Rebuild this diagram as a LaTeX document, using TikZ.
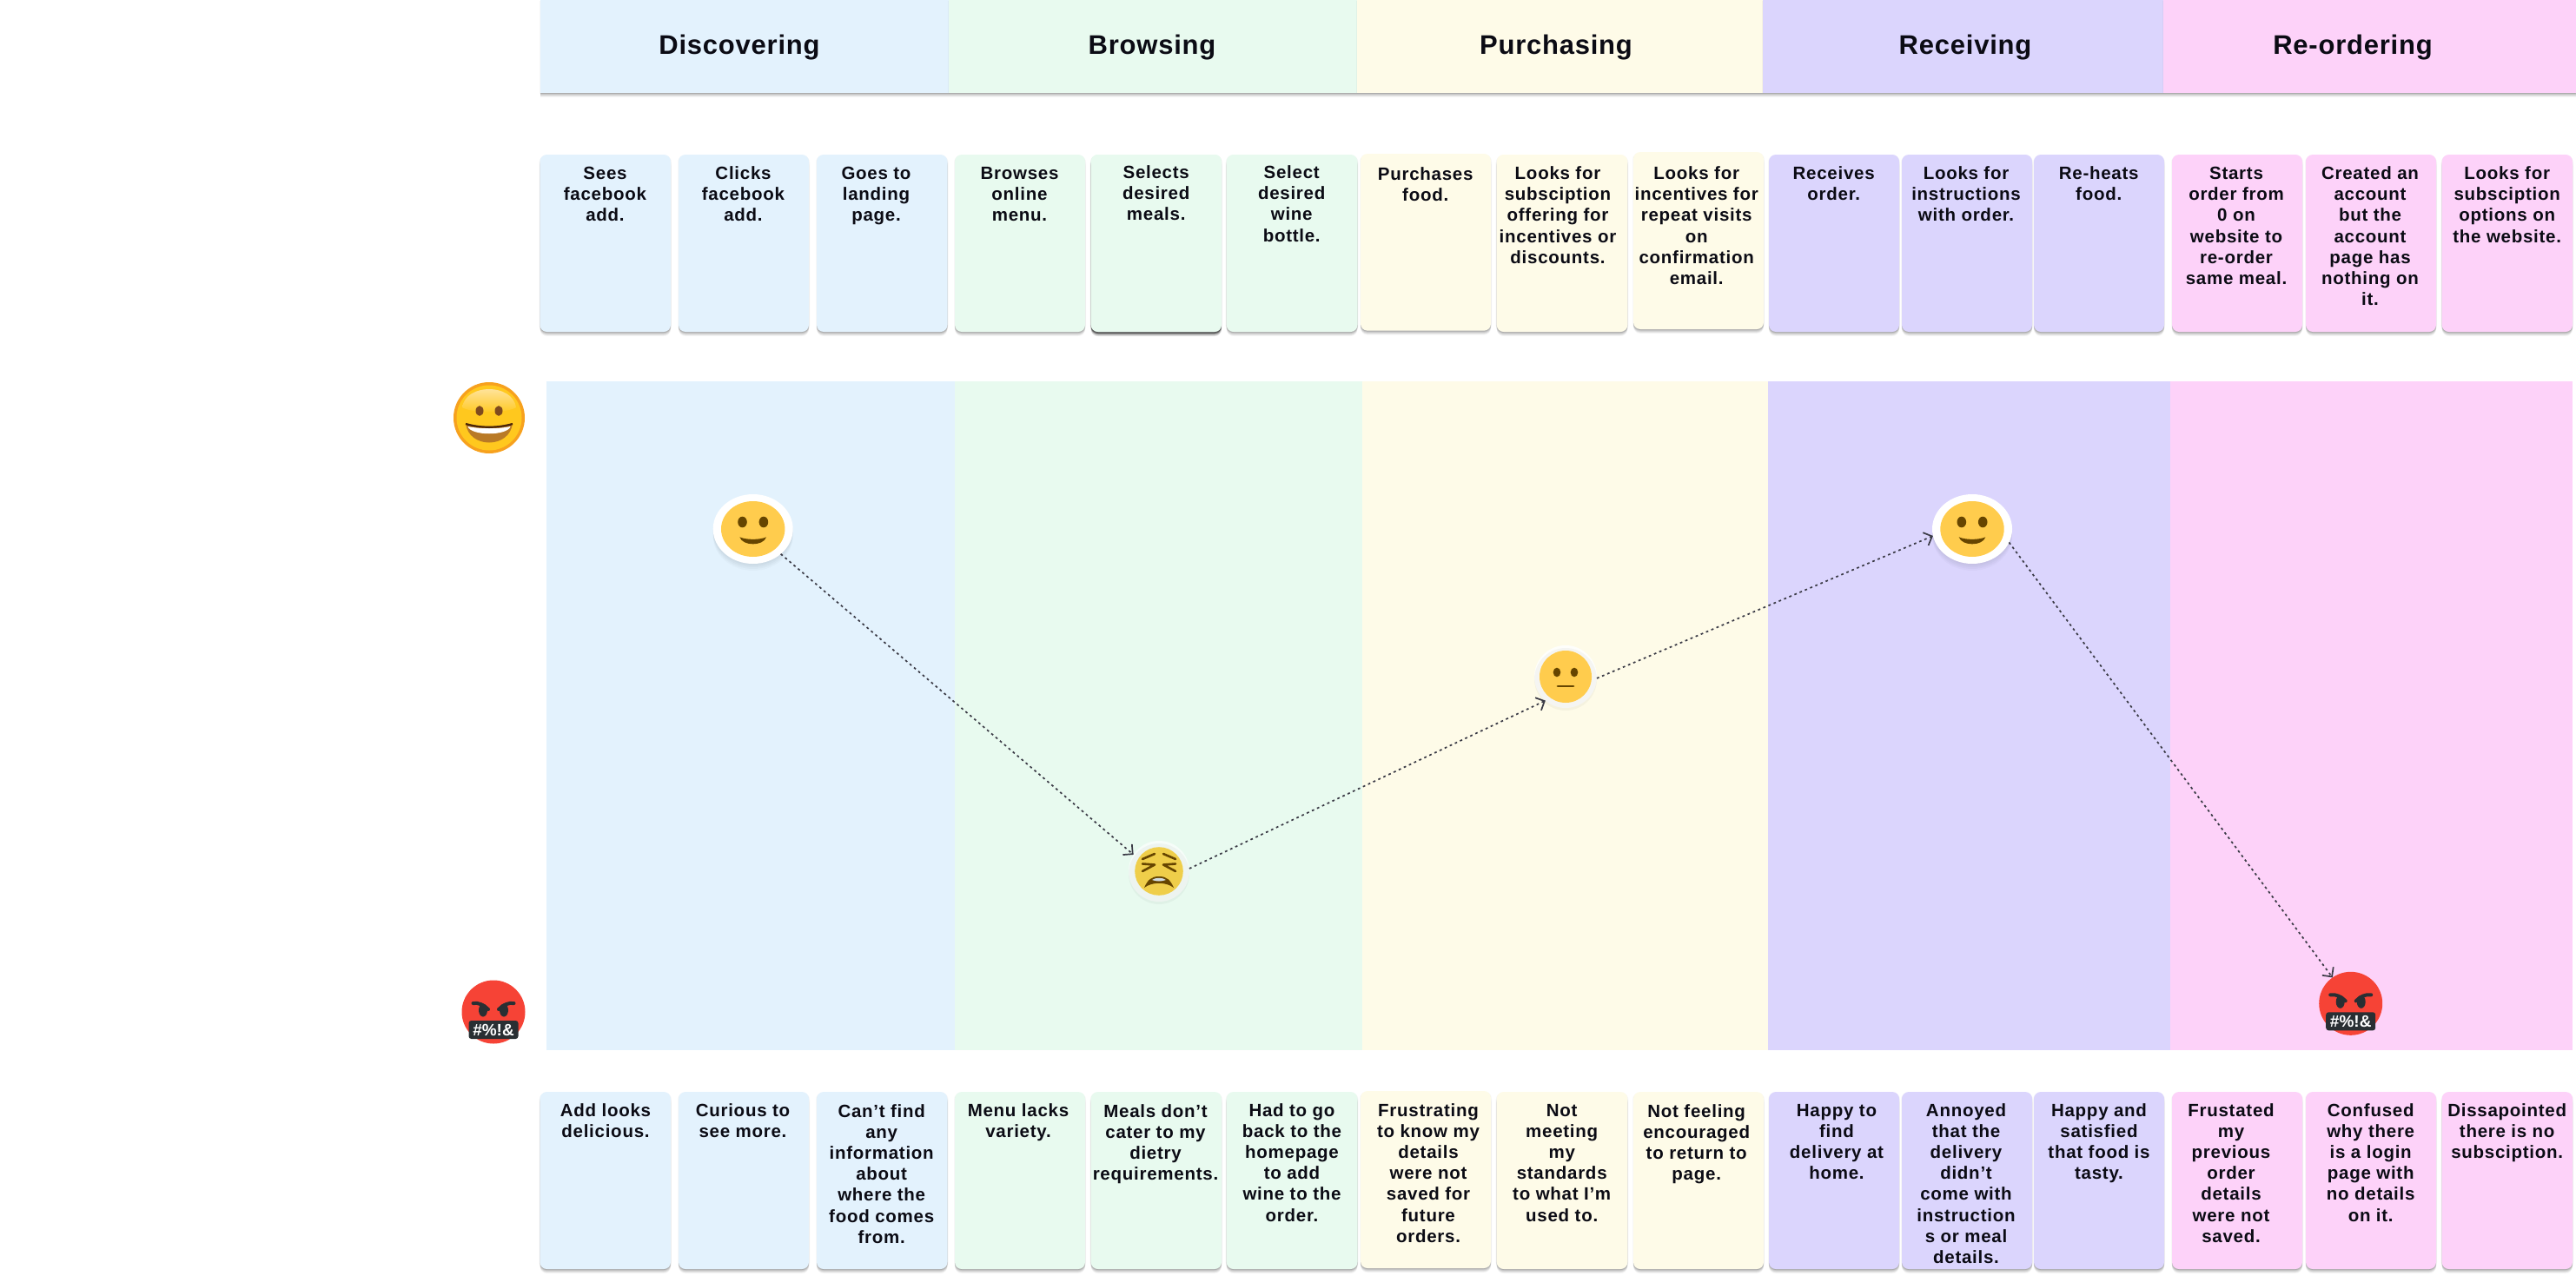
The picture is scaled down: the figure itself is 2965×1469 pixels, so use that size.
\documentclass[tikz,border=0pt]{standalone}
\usepackage{fontspec}
\setmainfont{Liberation Sans}
\newfontfamily\cardface[LetterSpace=3.6]{Liberation Sans Bold}
\newfontfamily\headface[LetterSpace=2.5]{Liberation Sans Bold}
\usetikzlibrary{shapes.geometric,shadows,arrows.meta}
\definecolor{cblue}{HTML}{E3F2FD}
\definecolor{cgreen}{HTML}{E8FAEF}
\definecolor{cyellow}{HTML}{FEFBE8}
\definecolor{cpurple}{HTML}{DBD5FD}
\definecolor{cpink}{HTML}{FDD2F9}
\definecolor{ink}{HTML}{0B0B14}
\definecolor{faceyel}{HTML}{FFCC4D}
\definecolor{tiredyel}{HTML}{EFCE4A}
\definecolor{facedark}{HTML}{664500}
\definecolor{angryred}{HTML}{F64336}
\definecolor{angrydark}{HTML}{292F33}
\definecolor{linkcol}{HTML}{3A3A45}
\definecolor{grinring}{HTML}{F7A11E}
\definecolor{grinbody}{HTML}{FFC81E}
\definecolor{grintop}{HTML}{FFE9B8}
\definecolor{grineye}{HTML}{7F4A1E}
\definecolor{grinmouth}{HTML}{B97A26}
\definecolor{grinlip}{HTML}{4A2508}
\tikzset{
  softshadow/.style={
    general shadow={fill=black,opacity=.07,shadow yshift=-1pt},
    general shadow={fill=black,opacity=.07,shadow yshift=-2pt},
    general shadow={fill=black,opacity=.07,shadow yshift=-3pt},
    general shadow={fill=black,opacity=.06,shadow yshift=-4pt},
    general shadow={fill=black,opacity=.04,shadow yshift=-5pt},
    general shadow={fill=black,opacity=.03,shadow yshift=-1pt,shadow xshift=1pt},
    general shadow={fill=black,opacity=.03,shadow yshift=-1pt,shadow xshift=-1pt}},
  ringshadow/.style={
    general shadow={fill=black,opacity=.025,shadow yshift=-2pt},
    general shadow={fill=black,opacity=.025,shadow yshift=-4pt},
    general shadow={fill=black,opacity=.025,shadow yshift=-6pt},
    general shadow={fill=black,opacity=.02,shadow yshift=-8pt}},
  darkshadow/.style={
    general shadow={fill=black,opacity=.25,shadow yshift=-2pt},
    general shadow={fill=black,opacity=.2,shadow yshift=-3pt},
    general shadow={fill=black,opacity=.1,shadow yshift=-5pt}},
  flat/.style={rectangle,inner sep=0pt,outer sep=0pt},
  cardbox/.style={flat,rounded corners=8pt,softshadow},
  cardtext/.style={inner sep=0pt,outer sep=0pt,anchor=north,align=center,text=ink,
    font=\cardface\fontsize{20.5}{24.2}\selectfont},
  headtext/.style={inner sep=0pt,outer sep=0pt,anchor=base,text=ink,
    font=\headface\fontsize{31}{36}\selectfont},
  ringface/.style={ellipse,inner sep=0pt,outer sep=0pt,fill=white,ringshadow},
  link/.style={draw=linkcol,line width=1.7pt,dash pattern=on 2.8pt off 3.7pt,
    -{Straight Barb[length=8pt,width=16pt,line width=1.7pt]}}
}
% name, x1, x2, y1, y2, colour, text centre x, text top y, text
\newcommand{\Card}[9]{%
  \node[cardbox,fill=#6,minimum width={#3-#2},minimum height={#5-#4}] (#1)
    at ({(#2+#3)/2},{(#4+#5)/2}) {};
  \node[cardtext] (#1t) at (#7,#8) {\rule{0pt}{15pt}#9};
}
\newcommand{\Head}[6]{%
  \node[flat,softshadow,fill=#4,minimum width={#3-#2},minimum height=107] (#1)
    at ({(#2+#3)/2},53.5) {};
  \node[headtext] (#1t) at (#5,63) {#6};
}
\newcommand{\Band}[4]{%
  \node[flat,fill=#4,minimum width={#3-#2},minimum height=770] (#1)
    at ({(#2+#3)/2},824) {};
}
\newcommand{\Smile}[3]{%
  \node[ringface,minimum width=92,minimum height=80] (#1) at (#2,#3) {};
  \begin{scope}[shift={(#2,#3)}]
    \fill[faceyel] (0,0) ellipse [x radius=36.7,y radius=32];
    \fill[facedark] (-12.2,-8) ellipse [x radius=5.3,y radius=6.3];
    \fill[facedark] (12.2,-8) ellipse [x radius=5.3,y radius=6.3];
    \fill[facedark] (-15.3,9.3) .. controls (-8,12.7) and (8,12.7) .. (15.3,9.3)
       .. controls (12,20) and (-12,20) .. cycle;
  \end{scope}
}
\newcommand{\Angry}[3]{%
  \node[circle,inner sep=0pt,outer sep=0pt,fill=angryred,minimum size=73] (#1) at (#2,#3) {};
  \begin{scope}[shift={(#2,#3)}]
    \fill[angrydark] (-12,-2) ellipse [x radius=5,y radius=7.5];
    \fill[angrydark] (12,-2) ellipse [x radius=5,y radius=7.5];
    \draw[angrydark,line width=4pt,line cap=round] (-23.5,-10) .. controls (-17,-11) and (-11,-8) .. (-6,-3);
    \draw[angrydark,line width=4pt,line cap=round] (23.5,-10) .. controls (17,-11) and (11,-8) .. (6,-3);
    \fill[angrydark,rounded corners=3pt] (-28.5,10) rectangle (28.5,31);
  \end{scope}
  \node[inner sep=0pt,outer sep=0pt,text=white,font=\bfseries\fontsize{19}{22}\selectfont] (#1t)
    at (#2,{#3+20.5}) {\#\%!\&};
}
\begin{document}
\begin{tikzpicture}[x=1pt,y=-1pt]
\useasboundingbox (0,0) rectangle (2965,1469);
\fill[white] (0,0) rectangle (2965,1469);

% bands
\Band{bandA}{629}{1099}{cblue}
\Band{bandB}{1099}{1568}{cgreen}
\Band{bandC}{1568}{2035}{cyellow}
\Band{bandD}{2035}{2498}{cpurple}
\Band{bandE}{2498}{2961}{cpink}

% headers
\Head{headA}{621.5}{1091.5}{cblue}{851}{Discovering}
\Head{headB}{1091.5}{1562}{cgreen}{1326}{Browsing}
\Head{headC}{1562}{2029}{cyellow}{1791}{Purchasing}
\Head{headD}{2029}{2490}{cpurple}{2262}{Receiving}
\Head{headE}{2490}{2965}{cpink}{2708}{Re-ordering}

% top cards
\Card{ta}{621.5}{772}{178}{382}{cblue}{696.5}{191}{Sees\\facebook\\add.}
\Card{tb}{781}{931}{178}{382}{cblue}{855.5}{191}{Clicks\\facebook\\add.}
\Card{tc}{940}{1090.5}{178}{382}{cblue}{1008.5}{191}{Goes to\\landing\\page.}
\Card{td}{1099}{1249}{178}{382}{cgreen}{1173.5}{191}{Browses\\online\\menu.}
\node[flat,rounded corners=8pt,darkshadow,fill=cgreen,minimum width=150.3,minimum height=204] (tedark) at (1330.8,280) {};
\Card{te}{1255.7}{1406}{178}{382}{cgreen}{1330.7}{190.5}{Selects\\desired\\meals.}
\Card{tf}{1411.7}{1562.5}{178}{382}{cgreen}{1486.7}{190.5}{Select\\desired\\wine\\bottle.}
\Card{tg}{1566}{1716}{177}{380.7}{cyellow}{1640.7}{192.5}{Purchases\\food.}
\Card{th}{1722.7}{1873.3}{178}{382}{cyellow}{1793}{191.5}{Looks for\\subsciption\\offering for\\incentives or\\discounts.}
\Card{ti}{1880}{2030}{175}{379}{cyellow}{1952.7}{191.5}{Looks for\\incentives for\\repeat visits\\on\\confirmation\\email.}
\Card{tj}{2036}{2186}{178}{382}{cpurple}{2110.7}{191.5}{Receives\\order.}
\Card{tk}{2189}{2339}{178}{382}{cpurple}{2263}{191.5}{Looks for\\instructions\\with order.}
\Card{tl}{2341}{2491}{178}{382}{cpurple}{2415.7}{191.5}{Re-heats\\food.}
\Card{tm}{2500}{2650}{178}{382}{cpink}{2574}{191.5}{Starts\\order from\\0 on\\website to\\re-order\\same meal.}
\Card{tn}{2654}{2804}{178}{382}{cpink}{2728}{191.5}{Created an\\account\\but the\\account\\page has\\nothing on\\it.}
\Card{to}{2810.7}{2961}{178}{382}{cpink}{2885.7}{191.5}{Looks for\\subsciption\\options on\\the website.}

% bottom cards
\Card{ba}{621.5}{772}{1257}{1461}{cblue}{697}{1270}{Add looks\\delicious.}
\Card{bb}{781}{931}{1257}{1461}{cblue}{855}{1270}{Curious to\\see more.}
\Card{bc}{940}{1090.5}{1257}{1461}{cblue}{1014.7}{1271}{Can’t find\\any\\information\\about\\where the\\food comes\\from.}
\Card{bd}{1099}{1249}{1257}{1461}{cgreen}{1172}{1270}{Menu lacks\\variety.}
\Card{be}{1255.7}{1406}{1257}{1461}{cgreen}{1330}{1271}{Meals don’t\\cater to my\\dietry\\requirements.}
\Card{bf}{1411.7}{1562.5}{1257}{1461}{cgreen}{1487}{1270}{Had to go\\back to the\\homepage\\to add\\wine to the\\order.}
\Card{bg}{1566}{1716}{1256}{1460}{cyellow}{1644}{1270}{Frustrating\\to know my\\details\\were not\\saved for\\future\\orders.}
\Card{bh}{1722.7}{1873.3}{1257}{1461}{cyellow}{1797.7}{1270}{Not\\meeting\\my\\standards\\to what I’m\\used to.}
\Card{bi}{1880}{2030}{1257}{1461}{cyellow}{1952.7}{1271}{Not feeling\\encouraged\\to return to\\page.}
\Card{bj}{2036}{2186}{1257}{1461}{cpurple}{2114}{1270}{Happy to\\find\\delivery at\\home.}
\Card{bk}{2189}{2339}{1257}{1461}{cpurple}{2263}{1270}{Annoyed\\that the\\delivery\\didn’t\\come with\\instruction\\s or meal\\details.}
\Card{bl}{2341}{2491}{1257}{1461}{cpurple}{2416}{1270}{Happy and\\satisfied\\that food is\\tasty.}
\Card{bm}{2500}{2650}{1257}{1461}{cpink}{2568}{1270}{Frustated\\my\\previous\\order\\details\\were not\\saved.}
\Card{bn}{2654}{2804}{1257}{1461}{cpink}{2728.7}{1270}{Confused\\why there\\is a login\\page with\\no details\\on it.}
\Card{bo}{2810.7}{2961}{1257}{1461}{cpink}{2885.7}{1270}{Dissapointed\\there is no\\subsciption.}

% scale emoji: grin
\node[circle,inner sep=0pt,outer sep=0pt,fill=grinring,minimum size=82] (grin) at (563,481) {};
\begin{scope}[shift={(563,481)}]
  \fill[grinbody] (0,0) circle (37.5);
  \shade[top color=grintop,bottom color=grinbody] (-31,-12) .. controls (-27,-40) and (27,-40) .. (31,-12) .. controls (20,-5) and (-20,-5) .. cycle;
  \fill[grineye] (-11,-8) ellipse [x radius=4.5,y radius=5.8];
  \fill[grineye] (11,-8) ellipse [x radius=4.5,y radius=5.8];
  \fill[grinmouth] (-27,6) .. controls (-10,11) and (10,11) .. (27,6) .. controls (24,36) and (-24,36) .. cycle;
  \fill[white] (-24.5,10) .. controls (-10,13) and (10,13) .. (24.5,10) .. controls (21,21) and (-21,21) .. cycle;
  \draw[grinlip,line width=2.2pt] (-27,7) .. controls (-10,12) and (10,12) .. (27,7);
\end{scope}

\Angry{angryL}{568}{1165}

% journey faces
\Smile{smileA}{866.7}{609}
\Smile{smileB}{2270}{609}

% tired face
\node[circle,inner sep=0pt,outer sep=0pt,fill=white,fill opacity=.65,minimum size=70] (tired) at (1334,1003) {};
\begin{scope}[shift={(1334,1003)}]
  \fill[black,opacity=.035] (0,3) circle (35);
  \fill[tiredyel] (0,0) circle (27.8);
  \draw[facedark,line width=2.6pt,line cap=round] (-19,-14) -- (-5,-20);
  \draw[facedark,line width=2.6pt,line cap=round,line join=round] (-19,-8.5) -- (-5,-7.5) -- (-19,0);
  \draw[facedark,line width=2.6pt,line cap=round] (19,-14) -- (5,-20);
  \draw[facedark,line width=2.6pt,line cap=round,line join=round] (19,-8.5) -- (5,-7.5) -- (19,0);
  \fill[facedark] (-17,19) .. controls (-13,10) and (-9,6) .. (0,6) .. controls (9,6) and (13,10) .. (17,19) .. controls (8,12) and (-8,12) .. cycle;
  \fill[cyan!20!gray!35!white] (-8,10) .. controls (-4,7) and (4,7) .. (8,10) .. controls (3,12) and (-3,12) .. cycle;
\end{scope}

% neutral face
\node[circle,inner sep=0pt,outer sep=0pt,fill=white,fill opacity=.85,minimum size=72] (neutral) at (1802,779) {};
\begin{scope}[shift={(1802,779)}]
  \fill[black,opacity=.035] (0,3) circle (36);
  \fill[faceyel] (0,0) circle (30);
  \fill[facedark] (-10,-5) ellipse [x radius=4.3,y radius=5.3];
  \fill[facedark] (10,-5) ellipse [x radius=4.3,y radius=5.3];
  \draw[facedark,line width=2.8pt,line cap=round] (-9,11) -- (9,11);
\end{scope}

\Angry{angryR}{2705.7}{1155.3}

% connectors
\draw[link] (smileA.-42) -- (tired.147);
\draw[link] (tired.5) -- (neutral.230);
\draw[link] (neutral.-3) -- (smileB.190);
\draw[link] (smileB.-20) -- (angryR.125);
\end{tikzpicture}
\end{document}
